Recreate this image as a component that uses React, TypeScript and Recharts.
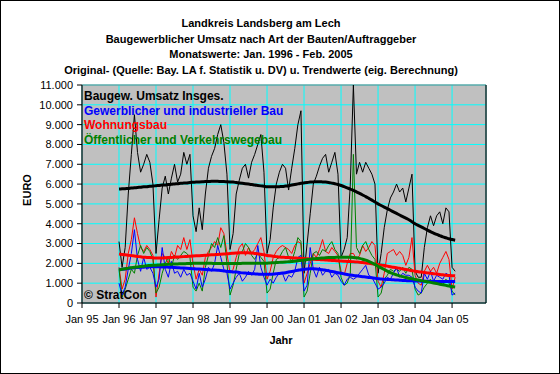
import React from "react";
import {
  ComposedChart,
  Line,
  XAxis,
  YAxis,
  CartesianGrid,
  ReferenceArea,
} from "recharts";

// Monatswerte Jan. 1996 - Feb. 2005 (EURO)
const yearLabels = [
  "Jan 95", "Jan 96", "Jan 97", "Jan 98", "Jan 99", "Jan 00",
  "Jan 01", "Jan 02", "Jan 03", "Jan 04", "Jan 05",
];
const firstMonth = 12; // Jan 96, counted from Jan 95

const totalValues = [
  3100, 1800, 2800, 5500, 7500, 9500, 7600, 6600, 7000, 7500, 7100, 6000,
  2500, 4200, 5800, 6400, 5500, 6300, 7000, 6100, 6500, 7600, 7000, 7500,
  4400, 3600, 4800, 3700, 5500, 6800, 7400, 7800, 8500, 9000, 8100, 6500,
  2700, 3500, 5500, 6200, 6800, 7000, 6300, 7100, 7500, 8000, 8500, 6600,
  2500, 3200, 4800, 6000, 6600, 7000, 6800, 5700, 6800, 7800, 9000, 9700,
  1500, 3000, 4500, 6000, 6400, 6900, 7300, 7500, 6600, 7100, 7600, 6500,
  2300, 2700, 3300, 6000, 11000, 6500, 7100, 6600, 7100, 6800, 6500, 6000,
  1500, 2500, 3800, 4700, 5300, 5600, 6000, 5600, 5800, 5100, 5800, 6500,
  1600, 1300, 1300, 2800, 3800, 4400, 3900, 4400, 4600, 4000, 4800, 4600,
  1800, 1600,
];

const gewerbValues = [
  1000, 400, 800, 1700, 2500, 3700, 2200, 1600, 2300, 1700, 1800, 1500,
  800, 1200, 2800, 1700, 1300, 2100, 1500, 1600, 1300, 1700, 1400, 1500,
  1100, 700, 1500, 800, 1200, 1800, 1600, 2000, 2900, 2300, 1700, 1500,
  700, 1000, 1300, 1500, 1100, 1300, 1600, 1400, 1700, 2900, 1800, 1300,
  900, 1200, 1000, 1300, 1500, 1500, 1100, 1400, 1300, 1600, 2300, 2400,
  600, 900, 2800, 1700, 1300, 1800, 1400, 1600, 1700, 1300, 1500, 1400,
  1100, 900, 1200, 1300, 1200, 1300, 1500, 1700, 1900, 1400, 1300, 1000,
  700, 800, 1000, 1300, 1200, 1500, 1800, 1300, 1500, 1400, 1400, 1300,
  800, 600, 500, 1500, 1200, 1600, 1100, 1400, 1300, 1200, 1500, 1400,
  400, 500,
];

const wohnValues = [
  1800, 700, 1200, 2500, 3200, 4300, 3500, 2800, 2600, 2900, 2700, 2400,
  300, 1500, 2500, 2300, 2000, 2600, 2300, 2900, 2700, 3300, 2700, 3200,
  2000, 1200, 1700, 1400, 2300, 2600, 2800, 3100, 2900, 3800, 3500, 2500,
  1500, 1700, 2300, 2800, 3000, 2400, 2800, 2500, 2700, 3000, 3300, 2600,
  1200, 1600, 2300, 2600, 2800, 2900, 2800, 2700, 2500, 2900, 3100, 3000,
  1000, 1500, 2000, 2500, 2300, 2700, 3200, 2600, 2500, 2800, 2600, 2400,
  1600, 1400, 2000, 2500, 2500, 2200, 2400, 2900, 2600, 2800, 3100, 2900,
  1100, 800, 1500, 2500, 2600, 2700, 2400, 2600, 2400, 1900, 2300, 3300,
  1400, 1000, 900, 1600, 1900, 1600, 1800, 1500, 2000, 2300, 2600, 2200,
  700, 1300,
];

const oeffValues = [
  1700, 300, 700, 1200, 1700, 1500, 2400, 2900, 2500, 2800, 2600, 2200,
  500, 800, 1500, 2000, 2300, 1800, 2400, 2200, 2400, 2600, 2500, 2300,
  800, 600, 1000, 600, 1800, 2400, 3000, 2800, 3300, 2800, 3400, 2000,
  400, 900, 1700, 2500, 2600, 3000, 2800, 2400, 2200, 2500, 2300, 2100,
  500, 700, 1500, 2200, 2300, 2600, 2800, 2300, 2100, 2600, 3300, 3100,
  300, 600, 1500, 2500, 2600, 2400, 2700, 2600, 2900, 3100, 2700, 2500,
  1300, 900, 1000, 1500, 7500, 2800, 2500, 2900, 3100, 2700, 2400, 2200,
  300, 500, 1200, 1400, 1700, 1600, 1700, 1600, 1800, 1500, 1800, 1700,
  700, 400, 500, 800, 1000, 1200, 1000, 1100, 1000, 900, 1200, 1000,
  600, 400,
];

// Trendwerte (eig. Berechnung)
const totalTrend = [
  5750, 5760, 5770, 5780, 5800, 5810, 5830, 5840, 5860, 5870, 5890, 5900,
  5920, 5930, 5950, 5960, 5980, 5990, 6010, 6020, 6040, 6050, 6060, 6080,
  6090, 6100, 6110, 6120, 6130, 6130, 6140, 6140, 6140, 6130, 6130, 6120,
  6110, 6100, 6080, 6060, 6040, 6020, 6000, 5980, 5950, 5930, 5910, 5890,
  5870, 5860, 5860, 5860, 5870, 5880, 5900, 5920, 5950, 5980, 6010, 6040,
  6060, 6080, 6100, 6110, 6120, 6120, 6110, 6100, 6080, 6050, 6020, 5980,
  5930, 5870, 5810, 5750, 5680, 5610, 5530, 5450, 5370, 5280, 5190, 5100,
  5000, 4920, 4840, 4760, 4680, 4600, 4520, 4440, 4360, 4280, 4200, 4100,
  4000, 3920, 3840, 3760, 3680, 3600, 3530, 3460, 3400, 3340, 3290, 3240,
  3200, 3170,
];

const gewerbTrend = [
  1680, 1700, 1720, 1740, 1760, 1780, 1790, 1800, 1810, 1820, 1830, 1830,
  1830, 1830, 1820, 1820, 1810, 1800, 1790, 1780, 1770, 1760, 1750, 1740,
  1730, 1720, 1710, 1700, 1690, 1680, 1670, 1660, 1650, 1640, 1620, 1600,
  1590, 1570, 1560, 1540, 1520, 1510, 1490, 1480, 1470, 1460, 1450, 1450,
  1450, 1450, 1460, 1470, 1490, 1510, 1530, 1560, 1590, 1620, 1650, 1680,
  1700, 1720, 1730, 1730, 1720, 1700, 1680, 1650, 1620, 1590, 1560, 1530,
  1500, 1470, 1440, 1410, 1390, 1370, 1350, 1330, 1310, 1290, 1270, 1250,
  1230, 1210, 1200, 1190, 1180, 1170, 1160, 1150, 1140, 1130, 1120, 1120,
  1110, 1110, 1100, 1100, 1100, 1090, 1090, 1090, 1080, 1080, 1080, 1080,
  1080, 1080,
];

const wohnTrend = [
  2470, 2450, 2430, 2410, 2390, 2370, 2350, 2330, 2310, 2300, 2290, 2280,
  2270, 2270, 2270, 2280, 2290, 2300, 2310, 2320, 2330, 2340, 2350, 2360,
  2370, 2380, 2390, 2400, 2410, 2420, 2430, 2440, 2450, 2460, 2470, 2480,
  2500, 2510, 2520, 2530, 2540, 2540, 2530, 2520, 2500, 2480, 2460, 2430,
  2400, 2380, 2360, 2340, 2320, 2310, 2300, 2290, 2280, 2270, 2260, 2250,
  2240, 2230, 2220, 2210, 2200, 2190, 2180, 2170, 2160, 2150, 2140, 2130,
  2120, 2110, 2100, 2090, 2080, 2070, 2060, 2040, 2020, 2000, 1980, 1960,
  1940, 1920, 1890, 1860, 1830, 1800, 1780, 1750, 1720, 1690, 1660, 1630,
  1600, 1580, 1560, 1540, 1520, 1500, 1480, 1460, 1440, 1420, 1400, 1390,
  1380, 1370,
];

const oeffTrend = [
  1670, 1700, 1730, 1760, 1780, 1800, 1820, 1840, 1860, 1880, 1890, 1900,
  1910, 1920, 1930, 1940, 1950, 1960, 1970, 1970, 1980, 1980, 1990, 1990,
  2000, 2000, 2000, 2000, 2000, 2000, 2000, 1990, 1990, 1990, 1990, 1990,
  1990, 1990, 1990, 1990, 2000, 2000, 2000, 2000, 2000, 2000, 2000, 2000,
  2010, 2020, 2030, 2040, 2050, 2060, 2070, 2080, 2090, 2110, 2130, 2150,
  2170, 2190, 2210, 2230, 2240, 2260, 2270, 2280, 2290, 2300, 2300, 2310,
  2310, 2310, 2310, 2310, 2300, 2280, 2250, 2210, 2160, 2100, 2030, 1950,
  1850, 1770, 1690, 1610, 1530, 1470, 1420, 1370, 1330, 1290, 1250, 1220,
  1190, 1160, 1130, 1100, 1070, 1040, 1010, 980, 950, 920, 890, 860,
  830, 810,
];

const yTicks = [0, 1000, 2000, 3000, 4000, 5000, 6000, 7000, 8000, 9000, 10000, 11000];

const data = totalValues.map((v, i) => ({
  m: firstMonth + i,
  total: v,
  gewerb: gewerbValues[i],
  wohn: wohnValues[i],
  oeff: oeffValues[i],
  totalT: totalTrend[i],
  gewerbT: gewerbTrend[i],
  wohnT: wohnTrend[i],
  oeffT: oeffTrend[i],
}));

const xTicks = yearLabels.map((_, i) => i * 12);

const euro = (v: number) =>
  v >= 1000 ? `${Math.floor(v / 1000)}.${String(v % 1000).padStart(3, "0")}` : `${v}`;

const font = "'Liberation Sans', Arial, sans-serif";
const tickStyle = { fontSize: 11, fill: "#000", fontFamily: font };

const legendItems = [
  { text: "Baugew. Umsatz Insges.", color: "#000000" },
  { text: "Gewerblicher und industrieller Bau", color: "#0000ff" },
  { text: "Wohnungsbau", color: "#ff0000" },
  { text: "Öffentlicher und Verkehrswegebau", color: "#008000" },
];

const titleLines = [
  "Landkreis Landsberg am Lech",
  "Baugewerblicher Umsatz nach Art der Bauten/Auftraggeber",
  "Monatswerte: Jan. 1996 - Feb. 2005",
  "Original- (Quelle: Bay. LA f. Statistik u. DV) u. Trendwerte (eig. Berechnung)",
];

export default function App() {
  return (
    <div
      style={{
        position: "absolute",
        left: 0,
        top: 0,
        width: 560,
        height: 374,
        background: "#fff",
        border: "1px solid #000",
        boxSizing: "border-box",
        fontFamily: font,
      }}
    >
      <div style={{ position: "absolute", left: -1, top: -1 }}>
        <ComposedChart
          width={560}
          height={374}
          data={data}
          margin={{ top: 85, right: 22, bottom: 41, left: 30 }}
        >
          <CartesianGrid yAxisId="left" fill="#c0c0c0" stroke="#00ffff" strokeWidth={1} />
          <ReferenceArea
            yAxisId="left"
            x1={0}
            x2={131}
            y1={0}
            y2={11000}
            fill="none"
            stroke="#808080"
            ifOverflow="visible"
          />
          <XAxis
            dataKey="m"
            type="number"
            domain={[0, 131]}
            ticks={xTicks}
            tickFormatter={(v: number) => yearLabels[v / 12]}
            tick={tickStyle}
            tickSize={5}
            tickMargin={7}
            axisLine={{ stroke: "#000" }}
            tickLine={{ stroke: "#000" }}
            interval={0}
            height={30}
          />
          <YAxis
            yAxisId="left"
            domain={[0, 11000]}
            ticks={yTicks}
            tickFormatter={euro}
            tick={tickStyle}
            tickSize={5}
            tickMargin={4}
            axisLine={{ stroke: "#000" }}
            tickLine={{ stroke: "#000" }}
            interval={0}
            width={52}
          />
          <YAxis
            yAxisId="right"
            orientation="right"
            domain={[0, 11000]}
            ticks={yTicks}
            tickFormatter={euro}
            tick={tickStyle}
            tickSize={5}
            tickMargin={2}
            axisLine={{ stroke: "#000" }}
            tickLine={{ stroke: "#000" }}
            interval={0}
            width={52}
          />
          <Line yAxisId="left" type="linear" dataKey="total" stroke="#000000" strokeWidth={1} dot={false} isAnimationActive={false} />
          <Line yAxisId="left" type="linear" dataKey="wohn" stroke="#ff0000" strokeWidth={1} dot={false} isAnimationActive={false} />
          <Line yAxisId="left" type="linear" dataKey="oeff" stroke="#008000" strokeWidth={1} dot={false} isAnimationActive={false} />
          <Line yAxisId="left" type="linear" dataKey="gewerb" stroke="#0000ff" strokeWidth={1} dot={false} isAnimationActive={false} />
          <Line yAxisId="left" type="monotone" dataKey="totalT" stroke="#000000" strokeWidth={3} dot={false} isAnimationActive={false} />
          <Line yAxisId="left" type="monotone" dataKey="gewerbT" stroke="#0000ff" strokeWidth={3} dot={false} isAnimationActive={false} />
          <Line yAxisId="left" type="monotone" dataKey="wohnT" stroke="#ff0000" strokeWidth={3} dot={false} isAnimationActive={false} />
          <Line yAxisId="left" type="monotone" dataKey="oeffT" stroke="#008000" strokeWidth={3} dot={false} isAnimationActive={false} />
        </ComposedChart>
      </div>
      <svg
        width={560}
        height={374}
        style={{ position: "absolute", left: -1, top: -1, pointerEvents: "none" }}
      >
        {titleLines.map((t, i) => (
          <text
            key={t}
            x={261}
            y={27 + i * 15.5}
            textAnchor="middle"
            fontSize={11}
            fontWeight="bold"
            fontFamily={font}
            fill="#000"
          >
            {t}
          </text>
        ))}
        {legendItems.map((it, i) => (
          <text
            key={it.text}
            x={84}
            y={100 + i * 14.7}
            fontSize={12}
            fontWeight="bold"
            fontFamily={font}
            fill={it.color}
          >
            {it.text}
          </text>
        ))}
        <text x={84} y={299} fontSize={12} fontWeight="bold" fontFamily={font} fill="#000">
          © StratCon
        </text>
        <text
          x={0}
          y={0}
          transform="translate(31,190) rotate(-90)"
          textAnchor="middle"
          fontSize={11}
          fontWeight="bold"
          fontFamily={font}
          fill="#000"
        >
          EURO
        </text>
        <text x={281} y={344} textAnchor="middle" fontSize={11} fontWeight="bold" fontFamily={font} fill="#000">
          Jahr
        </text>
      </svg>
    </div>
  );
}
